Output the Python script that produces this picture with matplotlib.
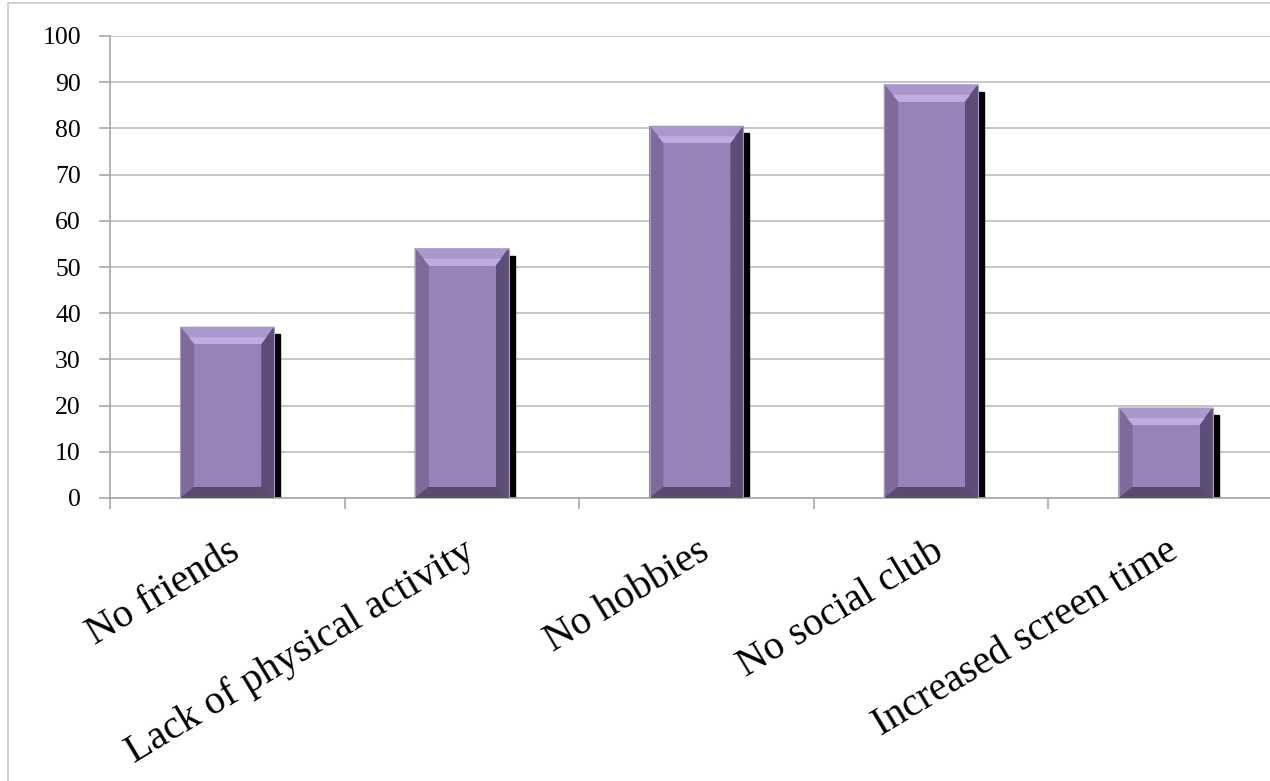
import numpy as np
import matplotlib
matplotlib.use("Agg")
import matplotlib.pyplot as plt
import matplotlib.patches as patches

categories = ["No friends", "Lack of physical activity", "No hobbies",
              "No social club", "Increased screen time"]
values = [37, 54, 80.5, 89.5, 19.5]
y_ticks = list(range(0, 101, 10))

W, H = 1270, 781
fig = plt.figure(figsize=(W / 100, H / 100), dpi=100)
plt.rcParams['font.family'] = ['Liberation Serif', 'DejaVu Serif']

# chart frame (cut off on right/bottom in the original)
fig.patches.append(patches.Rectangle((8 / W, -0.1), 1.2, (H - 3) / H + 0.1,
                                     transform=fig.transFigure, fill=False,
                                     edgecolor='#c8c8c8', lw=1.2))

ax_l, ax_r, ax_t, ax_b = 110, 1283, 36, 498
ax = fig.add_axes([ax_l / W, (H - ax_b) / H, (ax_r - ax_l) / W, (ax_b - ax_t) / H])
ax.set_xlim(-0.5, len(categories) - 0.5)
ax.set_ylim(0, 100)

for s in ['top', 'right']:
    ax.spines[s].set_visible(False)
for s in ['left', 'bottom']:
    ax.spines[s].set_color('#a8a8a8')
    ax.spines[s].set_linewidth(1.2)

ax.set_yticks(y_ticks)
ax.yaxis.grid(True, color='#c6c6c6', lw=1.4)
ax.set_axisbelow(True)
ax.tick_params(axis='y', length=8, width=1.2, color='#a8a8a8', pad=13,
               labelsize=18.5)

ax.set_xticks(np.arange(len(categories) + 1) - 0.5)
ax.set_xticklabels([])
ax.tick_params(axis='x', which='major', length=8, width=1.2, color='#a8a8a8')
ax.set_xticks(np.arange(len(categories)), minor=True)
ax.set_xticklabels(categories, minor=True, rotation=31, ha='right', va='top',
                   rotation_mode='anchor', fontsize=29)
ax.tick_params(axis='x', which='minor', length=0, pad=25)

# pixel -> data scales
px_x = (len(categories)) / (ax_r - ax_l)
px_y = 100 / (ax_b - ax_t)

bw = 0.4
bev_l, bev_r, bev_t, bev_b = 14 * px_x, 13 * px_x, 17 * px_y, 11 * px_y
sh_dx, sh_dy = 6 * px_x, 7 * px_y

for i, v in enumerate(values):
    x0, x1 = i - bw / 2, i + bw / 2
    # shadow
    ax.add_patch(patches.Rectangle((x1, 0), sh_dx, v - sh_dy, color='black', zorder=2))
    ix0, ix1 = x0 + bev_l, x1 - bev_r
    iy0, iy1 = bev_b, v - bev_t
    # bevel faces
    faces = [
        ([(x0, v), (x1, v), (ix1, iy1), (ix0, iy1)], '#ab97cc'),   # top
        ([(x0, 0), (x0, v), (ix0, iy1), (ix0, iy0)], '#7e6a9b'),   # left
        ([(x1, 0), (x1, v), (ix1, iy1), (ix1, iy0)], '#5e4d77'),   # right
        ([(x0, 0), (x1, 0), (ix1, iy0), (ix0, iy0)], '#594a6e'),   # bottom
    ]
    for pts, c in faces:
        ax.add_patch(patches.Polygon(pts, closed=True, facecolor=c,
                                     edgecolor=c, lw=0.5, zorder=3))
    ax.add_patch(patches.Rectangle((ix0, iy0), ix1 - ix0, iy1 - iy0,
                                   facecolor='#9882b9', edgecolor='none', zorder=4))
    # highlight strip under top edge
    ax.add_patch(patches.Polygon([(x0 + bev_l * 0.6, v - bev_t * 0.6),
                                  (x1 - bev_r * 0.6, v - bev_t * 0.6),
                                  (ix1, iy1), (ix0, iy1)], closed=True,
                                 facecolor='#c0ade0', edgecolor='none', zorder=4))
    ax.add_patch(patches.Rectangle((x0, 0), x1 - x0, v, fill=False,
                                   edgecolor='#a999c2', lw=0.8, zorder=5))

fig.savefig("out.png", dpi=100)
